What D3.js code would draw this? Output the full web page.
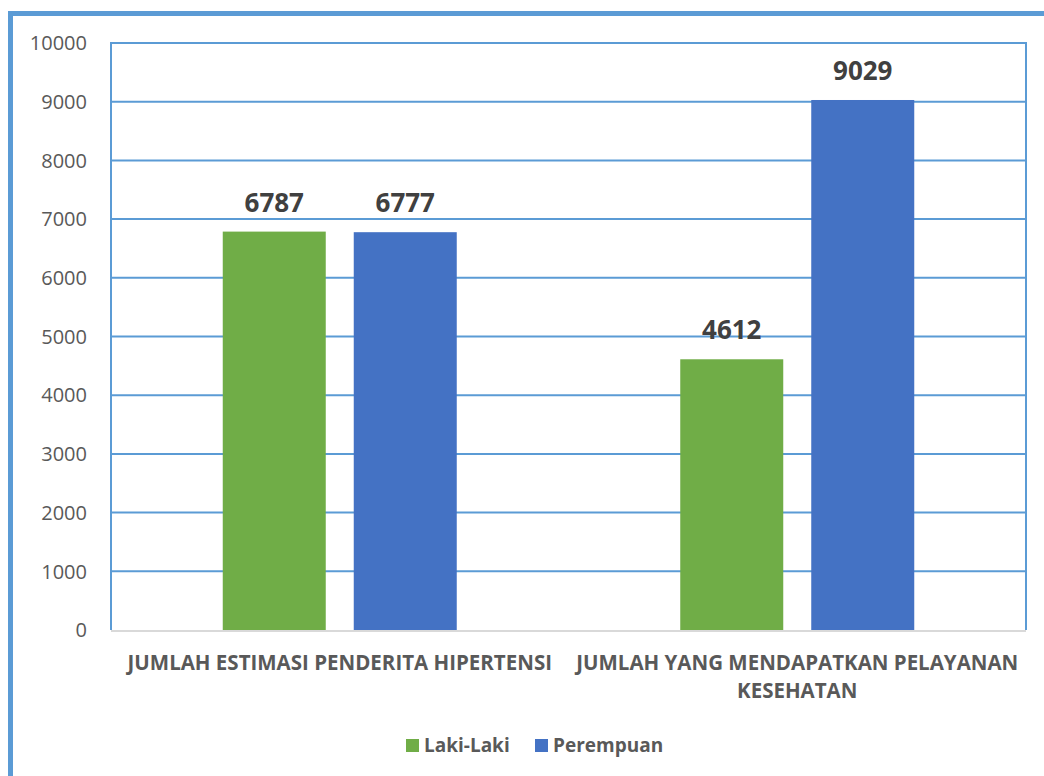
<!DOCTYPE html>
<html>
<head>
<meta charset="utf-8">
<script src="https://cdn.jsdelivr.net/npm/d3@7"></script>
<style>
  html, body { margin: 0; padding: 0; background: #fff; }
  svg { display: block; }
</style>
</head>
<body>
<svg id="chart" width="1044" height="776"></svg>
<script>
// Data
const categories = [
  ["JUMLAH ESTIMASI PENDERITA HIPERTENSI"],
  ["JUMLAH YANG MENDAPATKAN PELAYANAN", "KESEHATAN"]
];
const seriesNames = ["Laki-Laki", "Perempuan"];
const lakiLaki = [6787, 4612];
const perempuan = [6777, 9029];
const yTicks = [0, 1000, 2000, 3000, 4000, 5000, 6000, 7000, 8000, 9000, 10000];

const colors = ["#70AD47", "#4472C4"];
const frameBlue = "#5B9BD5";
const font = "'Open Sans', 'Noto Sans', sans-serif";

const svg = d3.select("#chart");

// Outer frame (left and top edges)
svg.append("rect").attr("x", 8).attr("y", 11).attr("width", 1040).attr("height", 5).attr("fill", frameBlue);
svg.append("rect").attr("x", 8).attr("y", 11).attr("width", 5).attr("height", 770).attr("fill", frameBlue);

const plot = { left: 111, right: 1026, top: 43, bottom: 630 };

const x0 = d3.scaleBand()
  .domain(d3.range(categories.length))
  .range([plot.left, plot.right]);

const y = d3.scaleLinear().domain([0, 10000]).range([plot.bottom, plot.top]);

// Grid lines
svg.append("g")
  .selectAll("line")
  .data(yTicks.filter(t => t > 0))
  .join("line")
  .attr("x1", plot.left).attr("x2", plot.right)
  .attr("y1", d => y(d)).attr("y2", d => y(d))
  .attr("stroke", frameBlue).attr("stroke-width", 2);

// Plot area side borders
svg.append("line").attr("x1", plot.left).attr("x2", plot.left)
  .attr("y1", plot.top - 1).attr("y2", plot.bottom).attr("stroke", frameBlue).attr("stroke-width", 2);
svg.append("line").attr("x1", plot.right).attr("x2", plot.right)
  .attr("y1", plot.top - 1).attr("y2", plot.bottom).attr("stroke", frameBlue).attr("stroke-width", 2);

// Y axis labels
svg.append("g")
  .selectAll("text")
  .data(yTicks)
  .join("text")
  .attr("x", 87)
  .attr("y", d => y(d))
  .attr("dy", "0.36em")
  .attr("text-anchor", "end")
  .attr("font-family", font)
  .attr("font-size", 20)
  .attr("fill", "#595959")
  .text(d => d);

// Bars
const series = [lakiLaki, perempuan];
const barW = 103, gap = 28;
const offsets = [-(gap / 2 + barW / 2), gap / 2 + barW / 2];

series.forEach((vals, si) => {
  const g = svg.append("g");
  g.selectAll("rect")
    .data(vals)
    .join("rect")
    .attr("x", (d, i) => x0(i) + x0.bandwidth() / 2 + offsets[si] - barW / 2)
    .attr("y", d => y(d))
    .attr("width", barW)
    .attr("height", d => y(0) - y(d))
    .attr("fill", colors[si]);
  g.selectAll("text")
    .data(vals)
    .join("text")
    .attr("x", (d, i) => x0(i) + x0.bandwidth() / 2 + offsets[si])
    .attr("y", d => y(d) - 20)
    .attr("text-anchor", "middle")
    .attr("font-family", font)
    .attr("font-weight", "bold")
    .attr("font-size", 26)
    .attr("fill", "#404040")
    .text(d => d);
});

// X axis baseline
svg.append("line").attr("x1", plot.left).attr("x2", plot.right)
  .attr("y1", plot.bottom + 1).attr("y2", plot.bottom + 1)
  .attr("stroke", "#D9D9D9").attr("stroke-width", 2);

// Category labels
categories.forEach((lines, i) => {
  const cx = x0(i) + x0.bandwidth() / 2;
  const t = svg.append("text")
    .attr("x", cx)
    .attr("y", 670)
    .attr("text-anchor", "middle")
    .attr("font-family", font)
    .attr("font-weight", "bold")
    .attr("font-size", 20.5)
    .attr("fill", "#595959");
  lines.forEach((ln, j) => {
    t.append("tspan").attr("x", cx).attr("dy", j === 0 ? 0 : 28).text(ln);
  });
});

// Legend
const legendItems = [
  { name: seriesNames[0], color: colors[0], x: 406 },
  { name: seriesNames[1], color: colors[1], x: 535 }
];
legendItems.forEach(it => {
  svg.append("rect").attr("x", it.x).attr("y", 739).attr("width", 13).attr("height", 13).attr("fill", it.color);
  svg.append("text")
    .attr("x", it.x + 18).attr("y", 752)
    .attr("font-family", font).attr("font-weight", "bold").attr("font-size", 19)
    .attr("fill", "#595959")
    .text(it.name);
});
</script>
</body>
</html>
